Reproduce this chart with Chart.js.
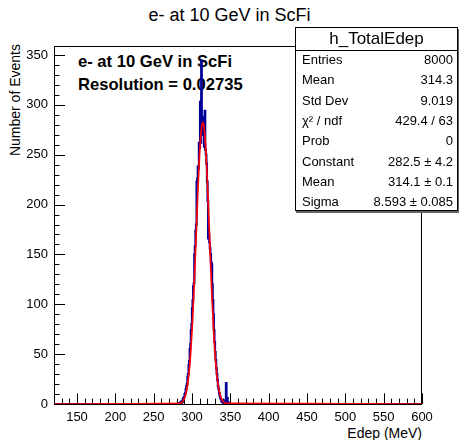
<!DOCTYPE html>
<html>
<head>
<meta charset="utf-8">
<script src="https://cdn.jsdelivr.net/npm/chart.js@4/dist/chart.umd.min.js"></script>
<style>
html,body{margin:0;padding:0;background:#fff;}
#wrap{position:relative;width:459px;height:440px;overflow:hidden;font-family:"Liberation Sans",Arial,Helvetica,sans-serif;color:#000;}
#c{position:absolute;left:0;top:0;z-index:1;}
.t{position:absolute;white-space:nowrap;line-height:1;}
#title{left:0;width:459px;text-align:center;top:6px;font-size:18px;z-index:0;}
#ytitle{left:7px;top:244px;width:200px;height:16px;line-height:16px;text-align:right;font-size:14px;transform-origin:0 0;transform:rotate(-90deg);}
#xtitle{right:37px;top:425px;font-size:14px;line-height:16px;}
.lbl{left:78px;font-size:16.6px;font-weight:bold;z-index:0;}
#stats{position:absolute;left:295px;top:27px;width:163px;height:184px;box-sizing:border-box;border:1px solid #000;background:#fff;z-index:2;box-shadow:1px 2px 0 #666;}
#stats .hd{position:absolute;left:0;right:0;top:0;height:22px;line-height:22px;text-align:center;font-size:17px;border-bottom:1px solid #000;}
#stats .row{position:absolute;left:6px;right:4px;height:20px;line-height:20px;font-size:13px;}
#stats .row .v{position:absolute;right:0;top:0;}
</style>
</head>
<body>
<div id="wrap">
  <canvas id="c" width="459" height="440"></canvas>
  <div class="t" id="title"></div>
  <div class="t" id="ytitle"></div>
  <div class="t" id="xtitle"></div>
  <div class="t lbl" id="lbl1" style="top:54px"></div>
  <div class="t lbl" id="lbl2" style="top:77px"></div>
  <div id="stats"><div class="hd" id="statsHd"></div></div>
</div>
<script>
// ---- data ----
const chartTitle = "e- at 10 GeV in ScFi";
const xAxisTitle = "Edep (MeV)";
const yAxisTitle = "Number of Events";
const labelLines = ["e- at 10 GeV in ScFi", "Resolution = 0.02735"];
const statsTitle = "h_TotalEdep";
const statNames = ["Entries","Mean","Std Dev","χ² / ndf","Prob","Constant","Mean","Sigma"];
const statValues = ["8000","314.3","9.019","429.4 / 63","0","282.5 ± 4.2","314.1 ± 0.1","8.593 ± 0.085"];

const xTickLabels = [150,200,250,300,350,400,450,500,550,600];
const yTickLabels = [0,50,100,150,200,250,300,350];
const xRange = [120, 600];
const yRange = [0, 359];

// histogram bins (lower edge of first bin, bin width, contents)
const binLow = 282.0;
const binWidth = 0.75;
const counts = [
  0,0,1,0,2,1,
  3,2,5,6,7,10,11,15,18,20,27,30,39,43,55,60,74,80,96,104,118,121,150,158,174,180,223,226,
  238,236,262,257,303,262,344,276,288,270,280,258,294,255,250,241,223,204,166,170,162,156,150,142,140,
  120,104,90,74,62,52,44,36,30,24,18,15,11,8,6,5,3,2,3,1,2,0,1,4,21,3,6,2,0,1
];

// gaussian fit curve samples
const fitX = [120,284,286,288,290,292,294,296,298,300,302,304,306,308,310,312,314,316,318,320,322,324,326,328,330,332,334,336,338,340,342,344,600];
const fitY = [0,0.6,1.3,2.8,5.5,10.3,18.3,30.7,48.8,73.5,104.9,141.6,181.2,219.6,252.1,274.2,282.5,275.7,254.8,223.2,185.1,145.5,108.3,76.4,51.0,32.3,19.4,11.0,5.9,3.0,1.5,0.7,0];

// ---- text ----
document.getElementById('title').textContent = chartTitle;
document.getElementById('xtitle').textContent = xAxisTitle;
document.getElementById('ytitle').textContent = yAxisTitle;
document.getElementById('lbl1').textContent = labelLines[0];
document.getElementById('lbl2').textContent = labelLines[1];
document.getElementById('statsHd').textContent = statsTitle;
const st = document.getElementById('stats');
statNames.forEach((n,i)=>{
  const r = document.createElement('div');
  r.className='row';
  r.style.top = (22 + 20.3*i) + 'px';
  r.textContent = n;
  const v = document.createElement('span');
  v.className='v';
  v.textContent = statValues[i];
  r.appendChild(v);
  st.appendChild(r);
});

// ---- build datasets ----
const histPts = [{x:xRange[0], y:0}];
counts.forEach((c,i)=>histPts.push({x: binLow + i*binWidth, y: c}));
histPts.push({x: binLow + counts.length*binWidth, y: 0});
histPts.push({x: xRange[1], y: 0});
const fitPts = fitX.map((x,i)=>({x, y: fitY[i]}));

// ROOT-like frame and inner ticks
const rootAxes = {
  id:'rootAxes',
  beforeDatasetsDraw(chart){
    const {ctx, chartArea:a, scales:{x,y}} = chart;
    ctx.save();
    ctx.strokeStyle='#000'; ctx.lineWidth=1;
    ctx.beginPath();
    for (let v = xRange[0]+10; v <= xRange[1]; v += 10){
      const px = Math.round(x.getPixelForValue(v)) + 0.5;
      const len = (v % 50 === 0) ? 10.7 : 5.4;
      ctx.moveTo(px, a.bottom); ctx.lineTo(px, a.bottom - len);
    }
    for (let v = 0; v <= yRange[1]; v += 10){
      const py = Math.round(y.getPixelForValue(v)) + 0.5;
      const len = (v % 50 === 0) ? 11 : 5.5;
      ctx.moveTo(a.left, py); ctx.lineTo(a.left + len, py);
    }
    ctx.stroke();
    ctx.strokeRect(Math.round(a.left)+0.5, Math.round(a.top)+0.5, Math.round(a.right-a.left)-1, Math.round(a.bottom-a.top));
    ctx.restore();
  }
};

new Chart(document.getElementById('c'), {
  type:'line',
  data:{ datasets:[
    { data: fitPts, borderColor:'#ff0000', borderWidth:1.7, pointRadius:0, tension:0.4, cubicInterpolationMode:'monotone', fill:false },
    { data: histPts, borderColor:'#000099', borderWidth:2.2, pointRadius:0, stepped:true, fill:false }
  ]},
  options:{
    responsive:false, animation:false, devicePixelRatio:1,
    layout:{ padding:{ top:46, right:37, bottom:0, left:0 } },
    plugins:{ legend:{display:false}, tooltip:{enabled:false}, title:{display:false} },
    scales:{
      x:{ type:'linear', min:xRange[0], max:xRange[1],
          grid:{display:false, drawTicks:false}, border:{display:false},
          ticks:{ padding:6, color:'#000', font:{family:'"Liberation Sans", Arial', size:13}, maxRotation:0, autoSkip:false },
          afterBuildTicks(s){ s.ticks = xTickLabels.map(v=>({value:v})); },
          afterFit(s){ s.height = 36; } },
      y:{ type:'linear', min:yRange[0], max:yRange[1],
          grid:{display:false, drawTicks:false}, border:{display:false},
          ticks:{ padding:6, color:'#000', font:{family:'"Liberation Sans", Arial', size:13}, autoSkip:false },
          afterBuildTicks(s){ s.ticks = yTickLabels.map(v=>({value:v})); },
          afterFit(s){ s.width = 54; } }
    }
  },
  plugins:[rootAxes]
});
</script>
</body>
</html>
